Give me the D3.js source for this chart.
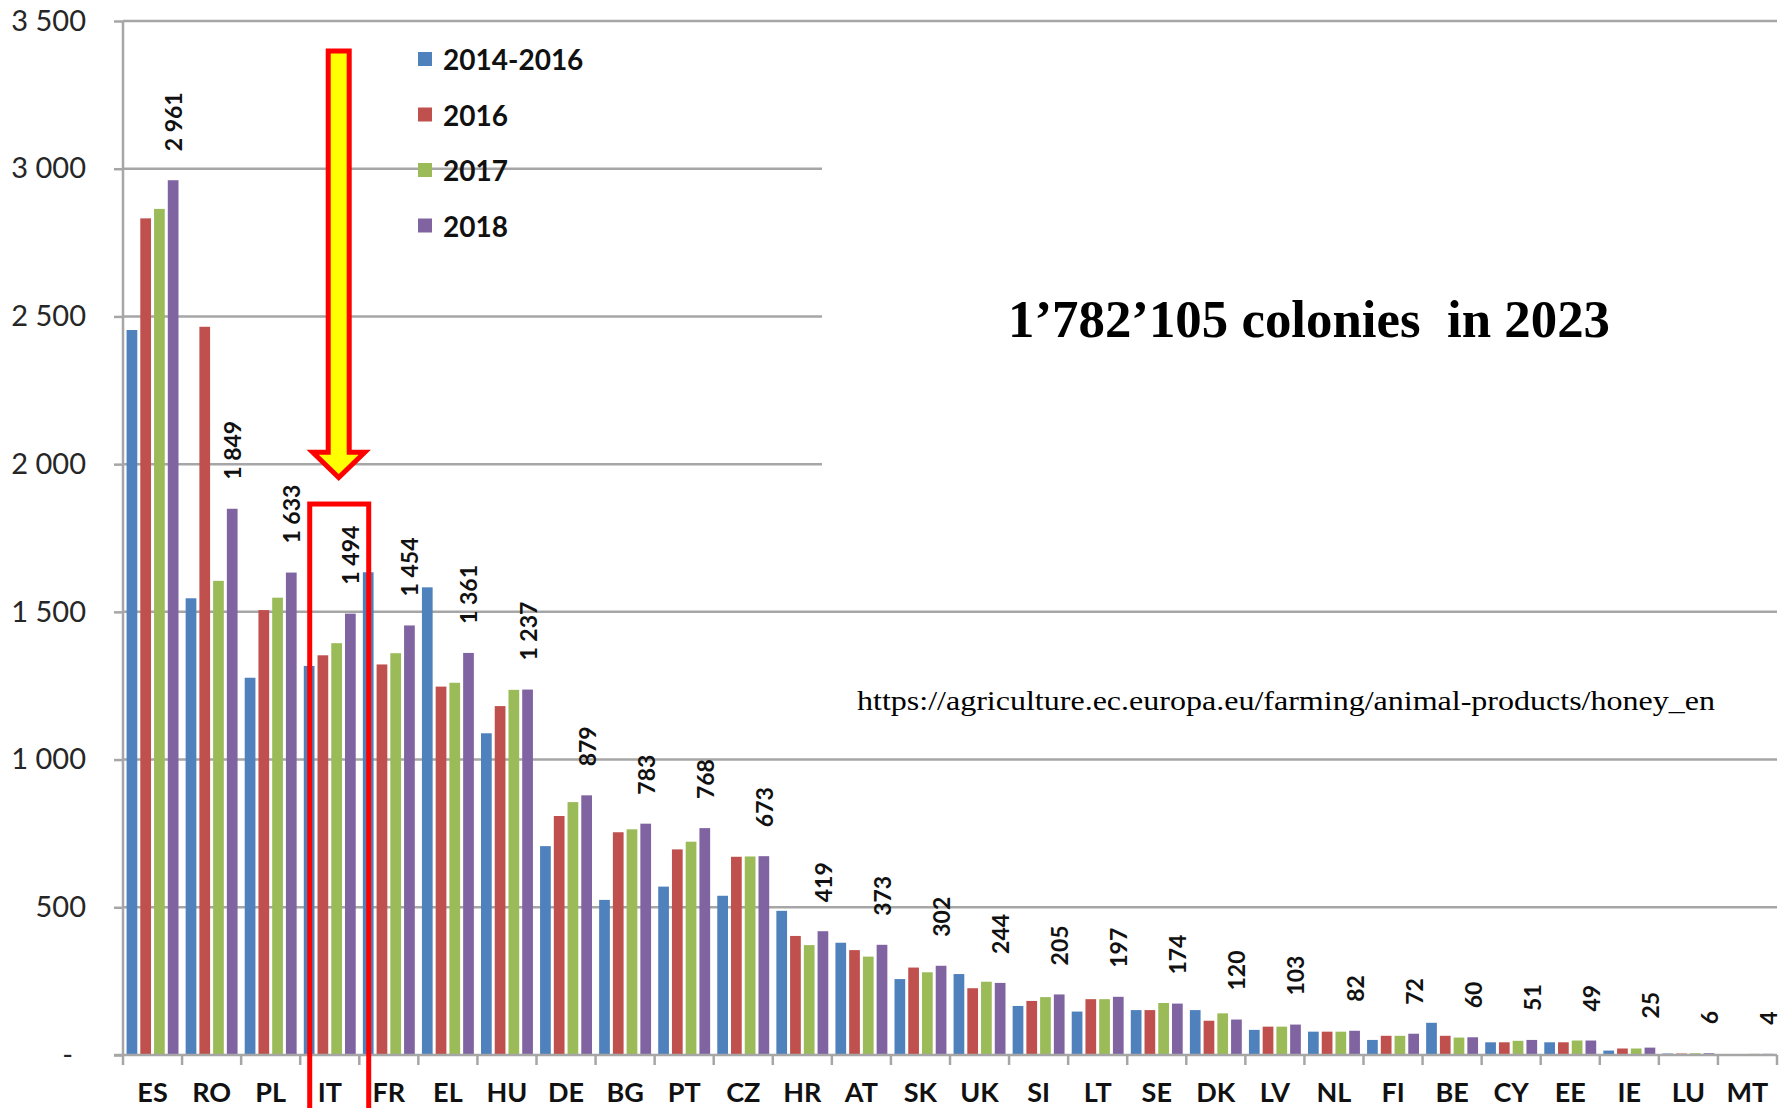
<!DOCTYPE html>
<html><head><meta charset="utf-8">
<script src="https://cdn.jsdelivr.net/npm/d3@7"></script>
<style>body{margin:0;background:#fff;} svg{display:block;}</style>
</head><body><svg id="chart" width="1790" height="1108"></svg>
<script>
const categories = ["ES","RO","PL","IT","FR","EL","HU","DE","BG","PT","CZ","HR","AT","SK","UK","SI","LT","SE","DK","LV","NL","FI","BE","CY","EE","IE","LU","MT"];
const seriesNames = ["2014-2016","2016","2017","2018"];
const s2014_2016 = [2454,1546,1277,1317,1634,1583,1089,707,525,570,539,488,380,257,274,166,147,152,152,85,79,51,109,43,43,15,5,3];
const s2016      = [2832,2465,1506,1353,1322,1247,1181,809,754,696,671,403,355,296,226,183,189,152,116,96,79,65,65,43,43,22,5,3];
const s2017      = [2864,1605,1548,1394,1360,1260,1236,856,764,722,672,372,333,280,248,196,189,176,141,96,79,65,59,48,49,22,6,4];
const s2018      = [2961,1849,1633,1494,1454,1361,1237,879,783,768,673,419,373,302,244,205,197,174,120,103,82,72,60,51,49,25,6,4];
const yTicks = [0,500,1000,1500,2000,2500,3000,3500];
const seriesColors = ["#4F81BD","#C0504D","#9BBB59","#8064A2"];
const highlighted = "IT";
const annotation = "1\u2019782\u2019105 colonies  in 2023";
const sourceUrl = "https://agriculture.ec.europa.eu/farming/animal-products/honey_en";

(function(){
const seriesValues = [s2014_2016, s2016, s2017, s2018];
const rows = categories.map((c,i)=>({cat:c, vals: seriesValues.map((s,j)=>({series:seriesNames[j], idx:j, v:s[i]}))}));

const svg = d3.select("#chart");
const pLeft = 123, pRight = 1777, pTop = 21, pBottom = 1055;
const x = d3.scaleBand().domain(categories).range([pLeft,pRight]).paddingInner(0).paddingOuter(0);
const x1 = d3.scaleBand().domain(seriesNames).range([0,x.bandwidth()]).paddingInner(0.22).paddingOuter(0.26);
const y = d3.scaleLinear().domain([0,3500]).range([pBottom,pTop]);
const fmt = v => v === 0 ? "-" : d3.format(",")(v).replace(/,/g," ");
const gridColor = "#a6a6a6";
const sans = "Lato, 'Open Sans', sans-serif";

// gridlines
svg.append("g").selectAll("line").data(yTicks.filter(t=>t>0)).join("line")
  .attr("x1",pLeft).attr("x2",pRight).attr("y1",d=>y(d)).attr("y2",d=>y(d))
  .attr("stroke",gridColor).attr("stroke-width",2.5);

// white panel behind annotation (hides upper gridlines on the right)
svg.append("rect").attr("x",822).attr("y",y(3400)).attr("width",1790-822).attr("height",y(1620)-y(3400)).attr("fill","#fff");

// bars
const groups = svg.append("g").selectAll("g").data(rows).join("g")
  .attr("transform",d=>`translate(${x(d.cat)},0)`);
groups.selectAll("rect").data(d=>d.vals).join("rect")
  .attr("x",d=>x1(d.series)).attr("width",x1.bandwidth())
  .attr("y",d=>y(d.v)).attr("height",d=>y(0)-y(d.v))
  .attr("fill",d=>seriesColors[d.idx]);

// y axis
const yAxis = d3.axisLeft(y).tickValues(yTicks).tickSize(9).tickPadding(28).tickFormat(fmt);
const gy = svg.append("g").attr("transform",`translate(${pLeft},0)`).call(yAxis);
gy.select(".domain").attr("stroke",gridColor).attr("stroke-width",2.5).attr("d",`M0,${pTop}V${pBottom}`);
gy.selectAll(".tick line").attr("stroke",gridColor).attr("stroke-width",2.5);
gy.selectAll(".tick text").attr("font-family",sans).attr("font-size",29).attr("fill","#262626")
  .attr("x",d=>d===0?-50:-37);

// x axis
const xAxis = d3.axisBottom(x).tickSize(0).tickPadding(36);
const gx = svg.append("g").attr("transform",`translate(0,${pBottom})`).call(xAxis);
gx.select(".domain").attr("stroke",gridColor).attr("stroke-width",2.5).attr("d",`M${pLeft-9},0H${pRight}`);
gx.selectAll(".tick text").attr("font-family",sans).attr("font-size",27).attr("font-weight",700).attr("fill","#111").attr("dy","0.35em").attr("y",38);
const bounds = categories.map(c=>x(c)).concat([pRight]);
svg.append("g").selectAll("line").data(bounds).join("line")
  .attr("x1",d=>d).attr("x2",d=>d)
  .attr("y1",pBottom).attr("y2",pBottom+10).attr("stroke",gridColor).attr("stroke-width",2.5);

// data labels for 2018
svg.append("g").selectAll("text").data(rows).join("text")
  .attr("transform",d=>`translate(${x(d.cat)+x1(seriesNames[3])+x1.bandwidth()/2},${y(d.vals[3].v)-29}) rotate(-90)`)
  .attr("text-anchor","start").attr("dominant-baseline","central")
  .attr("font-family",sans).attr("font-size",23).attr("font-weight",700).attr("fill","#111")
  .text(d=>fmt(d.vals[3].v));

// legend
const lg = svg.append("g").attr("transform","translate(418,59)");
const li = lg.selectAll("g").data(seriesNames).join("g").attr("transform",(d,i)=>`translate(0,${i*55.5})`);
li.append("rect").attr("x",0).attr("y",-7).attr("width",14).attr("height",14).attr("fill",(d,i)=>seriesColors[i]);
li.append("text").attr("x",25).attr("y",0).attr("dominant-baseline","central")
  .attr("font-family",sans).attr("font-size",28).attr("font-weight",700).attr("fill","#111").text(d=>d);

// annotation texts
svg.append("text").attr("x",1008).attr("y",337).style("white-space","pre")
  .attr("font-family","'Liberation Serif','Times New Roman',serif").attr("font-size",53).attr("font-weight",700).attr("fill","#000")
  .attr("textLength",602).attr("lengthAdjust","spacingAndGlyphs")
  .text(annotation);
svg.append("text").attr("x",857).attr("y",710)
  .attr("font-family","'Liberation Serif','Times New Roman',serif").attr("font-size",28).attr("fill","#000")
  .attr("textLength",858).attr("lengthAdjust","spacingAndGlyphs")
  .text(sourceUrl);

// highlight arrow and box around IT
const cx = x(highlighted) + 38.5;
const sw = 10.5, hw = 26, shoulder = y(2040), tip = y(1955), shaftTop = 51;
svg.append("path")
  .attr("d",`M${cx-sw},${shaftTop}H${cx+sw}V${shoulder}H${cx+hw}L${cx},${tip}L${cx-hw},${shoulder}H${cx-sw}Z`)
  .attr("fill","#ffff00").attr("stroke","#ff0000").attr("stroke-width",5).attr("stroke-linejoin","miter");
svg.append("rect").attr("x",x(highlighted)+9.5).attr("y",y(1865)).attr("width",59).attr("height",700)
  .attr("fill","none").attr("stroke","#ff0000").attr("stroke-width",5);
})();
</script></body></html>
